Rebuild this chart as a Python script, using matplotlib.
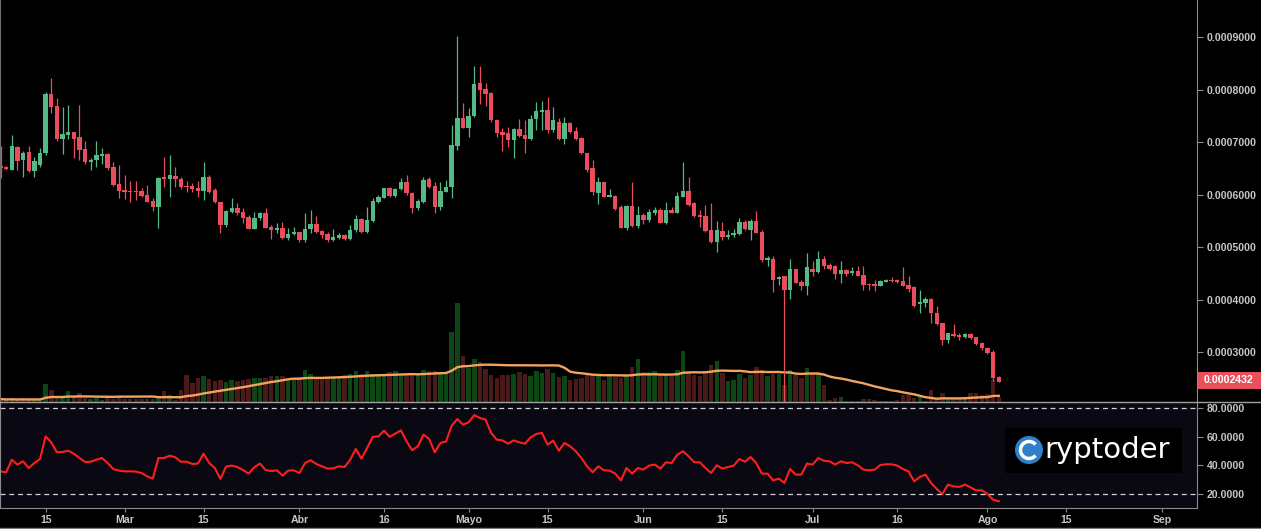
import numpy as np
import pandas as pd
import matplotlib
matplotlib.use('Agg')
import matplotlib.pyplot as plt
import matplotlib.transforms as mtransforms
from matplotlib.patches import Rectangle, Circle, Arc
from matplotlib.lines import Line2D

# daily candles from 7 Feb 2018, prices in units of 1e-4
start_date = '2018-02-07'
price_unit = 1e-4
opens = [6.54, 6.53, 6.47, 6.90, 6.65, 6.81, 6.45, 6.56, 6.80, 7.91,
         7.69, 7.06, 7.13, 7.20, 7.10, 6.86, 6.61, 6.65, 6.73, 6.77,
         6.53, 6.20, 6.09, 6.07, 6.07, 6.07, 5.99, 5.88, 5.77, 6.33,
         6.29, 6.35, 6.30, 6.16, 6.16, 6.13, 6.07, 6.34, 6.09, 5.86,
         5.41, 5.67, 5.75, 5.67, 5.58, 5.35, 5.56, 5.65, 5.39, 5.32,
         5.37, 5.17, 5.25, 5.28, 5.13, 5.34, 5.44, 5.30, 5.25, 5.13,
         5.18, 5.23, 5.15, 5.32, 5.53, 5.28, 5.50, 5.86, 5.94, 6.12,
         5.98, 6.10, 6.24, 6.02, 5.75, 5.86, 6.30, 6.16, 5.77, 6.05,
         6.14, 6.92, 7.46, 7.27, 7.50, 8.13, 8.01, 7.94, 7.42, 7.20,
         7.18, 7.03, 7.25, 7.13, 7.06, 7.43, 7.58, 7.61, 7.22, 7.39,
         7.06, 7.37, 7.21, 7.08, 6.80, 6.51, 6.02, 6.23, 5.96, 5.98,
         5.77, 5.37, 5.78, 5.40, 5.61, 5.52, 5.65, 5.71, 5.46, 5.71,
         5.65, 5.96, 6.07, 5.83, 5.61, 5.59, 5.32, 5.10, 5.31, 5.20,
         5.22, 5.25, 5.48, 5.32, 5.50, 5.29, 4.75, 4.77, 4.39, 4.44,
         4.18, 4.58, 4.33, 4.26, 4.58, 4.53, 4.77, 4.66, 4.63, 4.48,
         4.56, 4.51, 4.54, 4.47, 4.30, 4.30, 4.26, 4.34, 4.37, 4.37,
         4.35, 4.28, 4.23, 3.91, 3.94, 4.01, 3.75, 3.55, 3.22, 3.34,
         3.32, 3.29, 3.34, 3.28, 3.18, 3.08, 3.00, 2.53]
highs = [6.92, 6.55, 7.13, 6.92, 6.82, 6.92, 6.72, 6.88, 7.96, 8.21,
         7.83, 7.67, 7.71, 7.20, 7.71, 7.02, 6.70, 7.02, 6.89, 6.80,
         6.61, 6.56, 6.37, 6.26, 6.25, 6.12, 6.18, 5.93, 6.33, 6.72,
         6.75, 6.53, 6.34, 6.25, 6.21, 6.25, 6.61, 6.37, 6.12, 5.86,
         5.71, 5.93, 5.83, 5.74, 5.61, 5.67, 5.67, 5.74, 5.42, 5.45,
         5.48, 5.37, 5.39, 5.28, 5.64, 5.71, 5.59, 5.32, 5.29, 5.34,
         5.26, 5.25, 5.42, 5.61, 5.55, 5.77, 5.93, 5.99, 6.12, 6.15,
         6.12, 6.32, 6.37, 6.04, 5.91, 6.34, 6.34, 6.23, 6.24, 6.28,
         7.32, 9.02, 7.75, 7.64, 8.44, 8.45, 8.12, 7.96, 7.43, 7.26,
         7.29, 7.26, 7.43, 7.42, 7.51, 7.77, 7.78, 7.85, 7.66, 7.45,
         7.47, 7.39, 7.29, 7.10, 6.80, 6.66, 6.34, 6.23, 6.10, 5.99,
         5.80, 5.80, 6.23, 5.78, 5.64, 5.72, 5.76, 5.74, 5.85, 5.77,
         6.05, 6.61, 6.34, 5.86, 5.71, 5.80, 5.83, 5.50, 5.48, 5.32,
         5.34, 5.55, 5.52, 5.53, 5.69, 5.32, 4.83, 4.83, 4.45, 4.45,
         4.77, 4.59, 4.37, 4.88, 4.73, 4.92, 4.83, 4.69, 4.66, 4.73,
         4.58, 4.61, 4.63, 4.63, 4.32, 4.37, 4.37, 4.40, 4.42, 4.40,
         4.61, 4.45, 4.25, 4.18, 4.04, 4.02, 3.88, 3.56, 3.37, 3.53,
         3.36, 3.36, 3.36, 3.29, 3.20, 3.10, 3.04, 2.54]
lows = [6.31, 6.46, 6.46, 6.47, 6.34, 6.42, 6.34, 6.53, 6.75, 7.55,
        7.01, 6.78, 7.05, 6.70, 6.66, 6.59, 6.47, 6.53, 6.59, 6.47,
        6.16, 5.93, 5.91, 5.86, 5.90, 5.96, 5.85, 5.69, 5.36, 6.15,
        5.95, 6.15, 6.10, 6.05, 6.05, 5.96, 5.90, 6.02, 5.83, 5.26,
        5.39, 5.64, 5.61, 5.45, 5.34, 5.34, 5.51, 5.36, 5.15, 5.26,
        5.15, 5.13, 5.22, 5.10, 5.10, 5.26, 5.26, 5.17, 5.10, 5.12,
        5.15, 5.13, 5.13, 5.29, 5.26, 5.26, 5.48, 5.83, 5.93, 5.96,
        5.96, 6.09, 5.99, 5.64, 5.70, 5.83, 6.12, 5.65, 5.70, 6.04,
        5.93, 6.85, 7.26, 7.09, 7.47, 7.72, 7.69, 7.39, 7.10, 6.82,
        6.91, 6.70, 7.09, 6.80, 7.04, 7.23, 7.23, 7.17, 7.20, 7.04,
        6.96, 7.18, 7.04, 6.77, 6.42, 5.99, 5.82, 5.95, 5.95, 5.70,
        5.36, 5.32, 5.38, 5.36, 5.44, 5.48, 5.61, 5.45, 5.44, 5.64,
        5.64, 5.95, 5.78, 5.58, 5.39, 5.29, 5.08, 4.91, 5.13, 5.15,
        5.19, 5.23, 5.32, 5.13, 5.26, 4.72, 4.63, 4.15, 4.28, 2.05,
        4.01, 4.31, 4.19, 4.09, 4.45, 4.51, 4.59, 4.56, 4.39, 4.31,
        4.45, 4.47, 4.44, 4.19, 4.19, 4.17, 4.25, 4.33, 4.33, 4.32,
        4.25, 4.15, 3.86, 3.75, 3.86, 3.56, 3.51, 3.13, 3.17, 3.29,
        3.22, 3.26, 3.25, 3.13, 3.04, 2.97, 2.44, 2.42]
closes = [6.50, 6.48, 6.92, 6.64, 6.80, 6.45, 6.64, 6.80, 7.91, 7.67,
          7.06, 7.15, 7.20, 7.06, 6.84, 6.61, 6.66, 6.75, 6.77, 6.51,
          6.18, 6.07, 6.05, 6.05, 6.05, 5.97, 5.86, 5.77, 6.32, 6.29,
          6.37, 6.29, 6.15, 6.14, 6.10, 6.07, 6.34, 6.04, 5.85, 5.41,
          5.69, 5.75, 5.64, 5.56, 5.35, 5.56, 5.64, 5.37, 5.32, 5.37,
          5.17, 5.25, 5.29, 5.13, 5.34, 5.44, 5.29, 5.23, 5.13, 5.20,
          5.23, 5.15, 5.32, 5.53, 5.28, 5.51, 5.88, 5.96, 6.12, 5.98,
          6.10, 6.24, 6.02, 5.75, 5.88, 6.28, 6.15, 5.77, 6.07, 6.15,
          6.94, 7.46, 7.27, 7.50, 8.10, 7.99, 7.91, 7.41, 7.18, 7.13,
          7.04, 7.24, 7.11, 7.06, 7.44, 7.59, 7.61, 7.22, 7.41, 7.06,
          7.37, 7.20, 7.05, 6.80, 6.47, 6.04, 6.23, 5.96, 5.98, 5.72,
          5.37, 5.78, 5.40, 5.61, 5.52, 5.67, 5.71, 5.46, 5.71, 5.65,
          5.97, 6.07, 5.80, 5.60, 5.58, 5.31, 5.10, 5.32, 5.19, 5.23,
          5.26, 5.48, 5.34, 5.50, 5.27, 4.75, 4.80, 4.37, 4.43, 4.18,
          4.58, 4.32, 4.26, 4.61, 4.53, 4.77, 4.64, 4.59, 4.49, 4.56,
          4.49, 4.55, 4.45, 4.28, 4.27, 4.26, 4.35, 4.37, 4.35, 4.34,
          4.26, 4.20, 3.88, 3.96, 4.01, 3.75, 3.53, 3.22, 3.36, 3.30,
          3.29, 3.34, 3.26, 3.15, 3.07, 2.99, 2.51, 2.432]
volume = [3, 2, 3, 2, 3, 2, 3, 2, 18, 12,
          5, 5, 11, 5, 9, 4, 3, 4, 2, 5,
          3, 6, 3, 3, 3, 3, 3, 3, 5, 11,
          7, 2, 12, 27, 19, 24, 26, 23, 21, 22,
          20, 22, 21, 22, 23, 24, 24, 24, 26, 26,
          26, 23, 24, 25, 32, 28, 25, 24, 25, 24,
          25, 27, 28, 31, 28, 31, 28, 28, 28, 30,
          31, 28, 28, 29, 28, 32, 31, 31, 29, 29,
          70, 99, 46, 34, 43, 40, 33, 27, 24, 27,
          27, 28, 30, 28, 26, 31, 29, 33, 29, 25,
          26, 22, 23, 24, 28, 27, 26, 22, 26, 25,
          24, 26, 35, 43, 30, 30, 31, 28, 27, 26,
          32, 51, 30, 27, 26, 30, 37, 41, 29, 21,
          22, 28, 24, 27, 35, 32, 26, 28, 28, 17,
          32, 27, 24, 34, 29, 28, 17, 2, 4, 5,
          1, 1, 1, 3, 3, 2, 1, 1, 1, 2,
          7, 7, 4, 5, 1, 12, 3, 9, 3, 3,
          3, 4, 9, 9, 7, 8, 22, 5]
rsi = [35.8, 35.1, 43.9, 40.5, 42.8, 38.1, 41.6, 44.4, 60.2, 56.0,
       49.1, 49.3, 50.2, 48.1, 45.1, 42.3, 42.5, 43.9, 45.1, 41.6,
       37.4, 36.3, 35.8, 35.8, 35.6, 34.6, 32.3, 30.7, 45.1, 45.1,
       46.7, 45.6, 42.5, 42.5, 40.9, 41.2, 48.1, 41.6, 38.1, 30.5,
       39.1, 39.8, 38.8, 36.7, 34.2, 38.6, 41.2, 36.7, 36.0, 36.5,
       32.8, 36.3, 36.5, 34.6, 41.6, 43.5, 40.9, 39.3, 37.7, 37.9,
       39.3, 38.8, 43.9, 51.4, 44.6, 52.1, 59.8, 60.2, 64.2, 59.8,
       62.1, 64.4, 56.7, 50.5, 53.3, 61.4, 58.4, 49.1, 55.6, 56.7,
       67.7, 72.3, 68.4, 70.0, 75.1, 73.0, 71.9, 62.6, 57.9, 57.4,
       55.1, 57.4, 56.0, 55.1, 59.5, 61.9, 62.6, 54.4, 57.2, 50.2,
       55.6, 53.3, 49.8, 45.1, 39.3, 35.1, 39.3, 36.5, 36.3, 34.2,
       29.5, 38.1, 34.2, 38.1, 37.0, 39.8, 40.5, 37.7, 42.1, 41.6,
       47.4, 49.8, 46.3, 42.1, 42.1, 38.1, 34.6, 40.0, 37.7, 38.8,
       39.8, 44.4, 42.5, 45.8, 41.6, 34.2, 34.2, 29.5, 30.7, 27.7,
       37.4, 33.5, 33.5, 41.2, 40.5, 45.1, 43.2, 42.8, 40.5, 42.8,
       41.6, 42.1, 40.0, 37.0, 36.5, 37.0, 40.2, 40.7, 40.7, 39.8,
       37.4, 35.8, 28.8, 31.9, 33.5, 27.7, 23.5, 20.0, 26.5, 25.3,
       24.9, 26.5, 24.6, 22.5, 22.5, 20.0, 16.0, 14.9]

price_ticks = [0.0003, 0.0004, 0.0005, 0.0006, 0.0007, 0.0008, 0.0009]
rsi_ticks = [20, 40, 60, 80]
date_ticks = ['2018-02-15', '2018-03-01', '2018-03-15', '2018-04-01', '2018-04-16',
              '2018-05-01', '2018-05-15', '2018-06-01', '2018-06-15', '2018-07-01',
              '2018-07-16', '2018-08-01', '2018-08-15', '2018-09-01']
date_labels = ['15', 'Mar', '15', 'Abr', '16', 'Mayo', '15', 'Jun', '15', 'Jul',
               '16', 'Ago', '15', 'Sep']
last_label = '0.0002432'

o = np.array(opens) * price_unit
h = np.array(highs) * price_unit
l = np.array(lows) * price_unit
c = np.array(closes) * price_unit
vol = np.array(volume, dtype=float)
vol_ma = pd.Series(vol).rolling(20, min_periods=1).mean()
n = len(c)
x = np.arange(n)
t0 = pd.Timestamp(start_date)
tick_x = [(pd.Timestamp(d) - t0).days for d in date_ticks]

GREEN, RED = '#53b987', '#eb4d5c'
VGREEN, VRED = '#0e4514', '#4a1a1a'
GRID = '#8c8c8c'
TXT = '#c6c6c6'
font = dict(family='Liberation Sans', weight='bold', size=7.6)

W, H = 1261, 529
fig = plt.figure(figsize=(W / 100, H / 100), dpi=100, facecolor='black')
main_pos = [0, 1 - 402 / H, 1197 / W, 402 / H]
rsi_pos = [0, 1 - 508 / H, 1197 / W, 105 / H]

# volume (behind the candles)
vax = fig.add_axes(main_pos)
vax.set_facecolor('black')
up = c >= o
vax.bar(x, vol, width=0.8, color=np.where(up, VGREEN, VRED), lw=0)
vax.plot(x, vol_ma, color='#f4a35f', lw=1.7)
vax.set_ylim(0, 402)
vax.set_xlim(-0.09, 212.15)
vax.axis('off')

# candles
ax = fig.add_axes(main_pos, sharex=vax)
ax.patch.set_visible(False)
cols = np.where(up, GREEN, RED)
ax.vlines(x, l, h, colors=cols, lw=0.9)
body = np.maximum(np.abs(c - o), 0.025 * price_unit)
ax.bar(x, body, bottom=np.minimum(o, c), width=0.78, color=cols, lw=0)
ax.set_ylim(2.048 * price_unit, 9.705 * price_unit)
ax.yaxis.tick_right()
ax.set_yticks(price_ticks)
ax.set_yticklabels([f'{v:.7f}' for v in price_ticks], fontdict=font)
ax.tick_params(axis='y', direction='out', length=4, color=GRID, labelcolor=TXT, pad=3)
ax.tick_params(axis='x', bottom=False, labelbottom=False)
for s in ['top', 'bottom']:
    ax.spines[s].set_visible(False)
ax.spines['right'].set_color(GRID)
ax.spines['left'].set_color('#6e6e6e')

# last price tag
trans = mtransforms.blended_transform_factory(ax.transAxes, ax.transData)
box_h = 17 / 402 * (9.705 - 2.048) * price_unit
ax.add_patch(Rectangle((1.0, c[-1] - box_h / 2 + 0.03 * price_unit), 64 / 1197, box_h,
                       transform=trans, clip_on=False, fc='#e9505c', ec='none'))
ax.text(1.0 + 7 / 1197, c[-1] + 0.03 * price_unit, last_label, transform=trans,
        color='white', va='center', ha='left', clip_on=False, **font)

# RSI panel
rax = fig.add_axes(rsi_pos, sharex=vax)
rax.set_facecolor('#0a0812')
rax.plot(x, rsi, color='#ff1e1e', lw=1.5)
for lvl in (80, 20):
    rax.axhline(lvl, color='#d2d2d2', lw=0.9, ls=(0, (4, 3)))
rax.set_ylim(10.2, 83.5)
rax.yaxis.tick_right()
rax.set_yticks(rsi_ticks)
rax.set_yticklabels([f'{v:.4f}' for v in rsi_ticks], fontdict=font)
rax.tick_params(axis='y', direction='out', length=4, color=GRID, labelcolor=TXT, pad=3)
rax.set_xticks(tick_x)
rax.set_xticklabels(date_labels, fontdict=font)
rax.tick_params(axis='x', direction='out', length=3, color=GRID, labelcolor=TXT, pad=2)
rax.spines['top'].set_visible(False)
for s in ['right', 'bottom', 'left']:
    rax.spines[s].set_color(GRID)
rax.set_xlim(-0.09, 212.15)

# separators
fig.add_artist(Line2D([0, 1], [1 - 402 / H] * 2, color='#a0a0a0', lw=1))
fig.add_artist(Line2D([0, 1], [1 - 527.5 / H] * 2, color='#7a7a7a', lw=1))

# watermark
lax = fig.add_axes([1005 / W, 1 - 473 / H, 177 / W, 45 / H])
lax.set_xlim(0, 177)
lax.set_ylim(0, 45)
lax.axis('off')
lax.add_patch(Rectangle((0, 0), 177, 45, fc='black', ec='none'))
lax.add_patch(Circle((24, 23), 14, fc='#2f80c8', ec='none'))
lax.add_patch(Arc((24, 23), 17, 17, theta1=40, theta2=320, color='white', lw=2.5))
lax.text(39, 15, 'ryptoder', color='white', fontsize=21, family='DejaVu Sans',
         va='baseline', ha='left')

fig.savefig('out.png', dpi=100, facecolor='black')
